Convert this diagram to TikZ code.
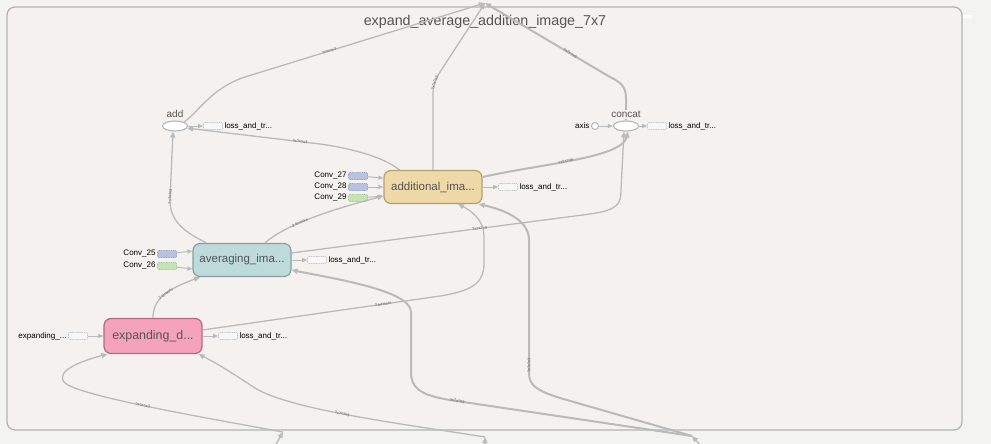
\documentclass[tikz,border=0pt]{standalone}
\usepackage{fontspec}
\setmainfont{Liberation Sans}
\usetikzlibrary{arrows.meta,shapes.geometric}
\definecolor{pagebg}{HTML}{F3F3F0}
\definecolor{groupbg}{HTML}{F5F1EE}
\definecolor{groupline}{HTML}{B4B4B4}
\definecolor{edgec}{HTML}{BABABA}
\definecolor{txt}{HTML}{555555}
\definecolor{addfill}{HTML}{F0D9A8}
\definecolor{addline}{HTML}{B59F70}
\definecolor{avgfill}{HTML}{BDDBDA}
\definecolor{avgline}{HTML}{879F9D}
\definecolor{expfill}{HTML}{F5A2BD}
\definecolor{expline}{HTML}{B06B83}
\definecolor{convblue}{HTML}{B7C2DF}
\definecolor{convblueline}{HTML}{98A5CB}
\definecolor{convgreen}{HTML}{C6E3B6}
\definecolor{convgreenline}{HTML}{A2CB90}
\tikzset{
  edge/.style={draw=edgec,line width=1.3pt,-{Triangle[length=6pt,width=5pt]}},
  thickedge/.style={edge,line width=2pt},
  shortedge/.style={draw=edgec,line width=1pt,-{Triangle[length=5pt,width=4pt]}},
  op/.style={ellipse,draw=groupline,fill=white,line width=1.1pt,minimum width=25pt,minimum height=10pt,inner sep=0},
  meta/.style={rounded corners=7pt,line width=1.2pt,minimum width=98pt,minimum height=33pt,text=txt,font=\fontsize{11.5}{13}\selectfont},
  stub/.style={rounded corners=1pt,dash pattern=on 1pt off .7pt,line width=.6pt,minimum width=19pt,minimum height=7pt,inner sep=0},
  lossbox/.style={stub,draw=gray!45,fill=gray!6},
  elbl/.style={sloped,inner sep=.8pt,text=gray!75!black,font=\fontsize{4}{4}\selectfont},
  small/.style={font=\fontsize{8}{9}\selectfont,inner sep=1.5pt},
  oplbl/.style={text=txt,fill=groupbg,inner sep=1pt,font=\fontsize{10}{11}\selectfont}
}
\begin{document}
\begin{tikzpicture}[x=1pt,y=-1pt]
\fill[pagebg] (0,0) rectangle (991,444);
\useasboundingbox (0,0) rectangle (991,444);
\draw[groupline,fill=groupbg,line width=1.3pt,rounded corners=8pt] (7,7) rectangle (962,430);
\fill[white] (963,15.5) rectangle (972,18);
\node[text=txt,font=\fontsize{14.3}{16}\selectfont] (title) at (485,22) {expand\_average\_addition\_image\_7x7};

% ops and meta nodes
\node[op] (add) at (175,126) {};
\node[op] (concat) at (626,126) {};
\node[circle,draw=groupline,fill=white,line width=.9pt,minimum size=7pt,inner sep=0] (axis) at (595,126) {};
\node[small,left] (axist) at (axis.west) {axis};
\node[meta,draw=addline,fill=addfill] (additional) at (433,187) {additional\_ima...};
\node[meta,draw=avgline,fill=avgfill] (averaging) at (242,260) {averaging\_ima...};
\node[meta,draw=expline,fill=expfill,minimum height=35pt,font=\fontsize{12.4}{14}\selectfont] (expanding) at (153,336) {expanding\_d...};

% inputs
\foreach \n/\y/\c in {27/176/convblue,28/187/convblue,29/198/convgreen}
  {\node[stub,draw=\c line,fill=\c] (conv\n) at (358,\y) {};
   \node[small,left] (conv\n t) at (conv\n.west) {Conv\_\n};}
\foreach \n/\y/\c in {25/254/convblue,26/266/convgreen}
  {\node[stub,draw=\c line,fill=\c] (conv\n) at (167,\y) {};
   \node[small,left] (conv\n t) at (conv\n.west) {Conv\_\n};}
\node[lossbox] (expin) at (78,336) {};
\node[small,left] (expint) at (expin.west) {expanding\_...};

% loss_and_tr... stubs
\foreach \n/\x/\y in {lossadd/213/126,lossconcat/657/126,lossadditional/508/187,lossaveraging/317/260,lossexpanding/228/336}
  {\node[lossbox] (\n) at (\x,\y) {};
   \node[small,right] (\n t) at (\n.east) {loss\_and\_tr...};}

\coordinate (out) at (485,3);
\coordinate (b1) at (283,432); \coordinate (b1o) at (275,446);
\coordinate (b2) at (485,437); \coordinate (b2o) at (485,446);
\coordinate (b3) at (692,436); \coordinate (b3o) at (701,446);

% short edges
\draw[shortedge] (add) -- (lossadd);
\draw[shortedge] (concat) -- (lossconcat);
\draw[shortedge] (axis) -- (concat);
\draw[shortedge] (additional) -- (lossadditional);
\draw[shortedge] (averaging) -- (lossaveraging);
\draw[shortedge] (expanding) -- (lossexpanding);
\draw[shortedge] (expin) -- (expanding);
\draw[shortedge] (conv27) -- ([yshift=9pt]additional.west);
\draw[shortedge] (conv28) -- (additional.west);
\draw[shortedge] (conv29) -- ([yshift=-9pt]additional.west);
\draw[shortedge] (conv25) -- ([yshift=9pt]averaging.west);
\draw[shortedge] (conv26) -- ([yshift=-9pt]averaging.west);

% outputs of the group
\draw[edge] (add.north east) .. controls (200,110) and (212,88) .. (245,77) -- node[elbl,pos=.35] (la1) {?x?x?x3} (out);
\draw[edge] (additional.north) -- (433,94) .. controls (433,86) and (435,80) .. node[elbl,pos=.5] (la2) {?x?x?x3} (440,72) -- (out);
\draw[thickedge] (concat.north) -- (626,98) .. controls (626,86) and (620,82) .. (610,77) -- node[elbl,pos=.32] (la3) {?x7x7x9} (out);

% inner edges
\draw[edge] ([xshift=14pt]averaging.north west) .. controls (185,232) and (170,222) .. (170,200) -- node[elbl,pos=.05] (la4) {?x?x?x3} ([xshift=-2pt]add.south);
\draw[edge] ([xshift=16pt]additional.north west) .. controls (385,158) and (355,149) .. (320,144) -- node[elbl,pos=.15] (la5) {?x?x?x3} (add.-10);
\draw[edge] (expanding.north) .. controls (153,300) and (165,290) .. node[elbl,pos=.55] (la6) {2 tensors} ([xshift=-42pt]averaging.south);
\draw[edge] ([xshift=23pt]averaging.north) .. controls (285,225) and (330,210) .. node[elbl,pos=.4] (la7) {2 tensors} ([yshift=-9pt]additional.west);
\draw[edge] ([yshift=7pt]averaging.east) -- node[elbl,pos=.63] (la8) {?x7x7x3} (590,214) .. controls (618,210) and (621,204) .. (621,190) -- ([xshift=-2pt]concat.south);
\draw[thickedge] ([yshift=10pt]additional.east) .. controls (540,164) and (622,158) .. node[elbl,pos=.45] (la9) {?x7x7x6} ([xshift=2pt]concat.south);
\draw[edge] ([yshift=6pt]expanding.east) -- node[elbl,pos=.76] (la10) {2 tensors} (440,296) .. controls (478,290) and (484,280) .. (484,262) -- (484,235) .. controls (484,220) and (470,210) .. ([xshift=25pt]additional.south);

% inputs from below the group
\draw[edge] (b1o) -- (b1);
\draw[edge] (b2o) -- (b2);
\draw[edge] (b3o) -- (b3);
\draw[edge] (b1) .. controls (190,415) and (75,395) .. node[elbl,pos=.5] (la11) {?x?x?x3} (64,382) .. controls (55,370) and (85,360) .. ([xshift=4pt]expanding.south west);
\draw[edge] (b2) .. controls (410,425) and (290,410) .. node[elbl,pos=.55] (la12) {?x?x?x3} (255,388) .. controls (235,375) and (220,365) .. ([xshift=-4pt]expanding.south east);
\draw[thickedge] (b3) -- node[elbl,pos=.97] (la13) {?x?x?x3} (450,400) .. controls (420,395) and (411,388) .. (411,372) -- (411,312) .. controls (411,290) and (330,278) .. ([yshift=-10pt]averaging.east);
\draw[thickedge] (b3) -- (560,398) .. controls (535,390) and (529,385) .. (529,372) -- node[elbl,pos=.05] (la14) {?x?x?x3} (529,240) .. controls (529,220) and (505,210) .. ([xshift=-4pt]additional.south east);

% op names on top of their edges
\node[oplbl,above=1.5pt] (addt) at (add.north) {add};
\node[oplbl,above=1.5pt] (concatt) at (concat.north) {concat};
\end{tikzpicture}
\end{document}
